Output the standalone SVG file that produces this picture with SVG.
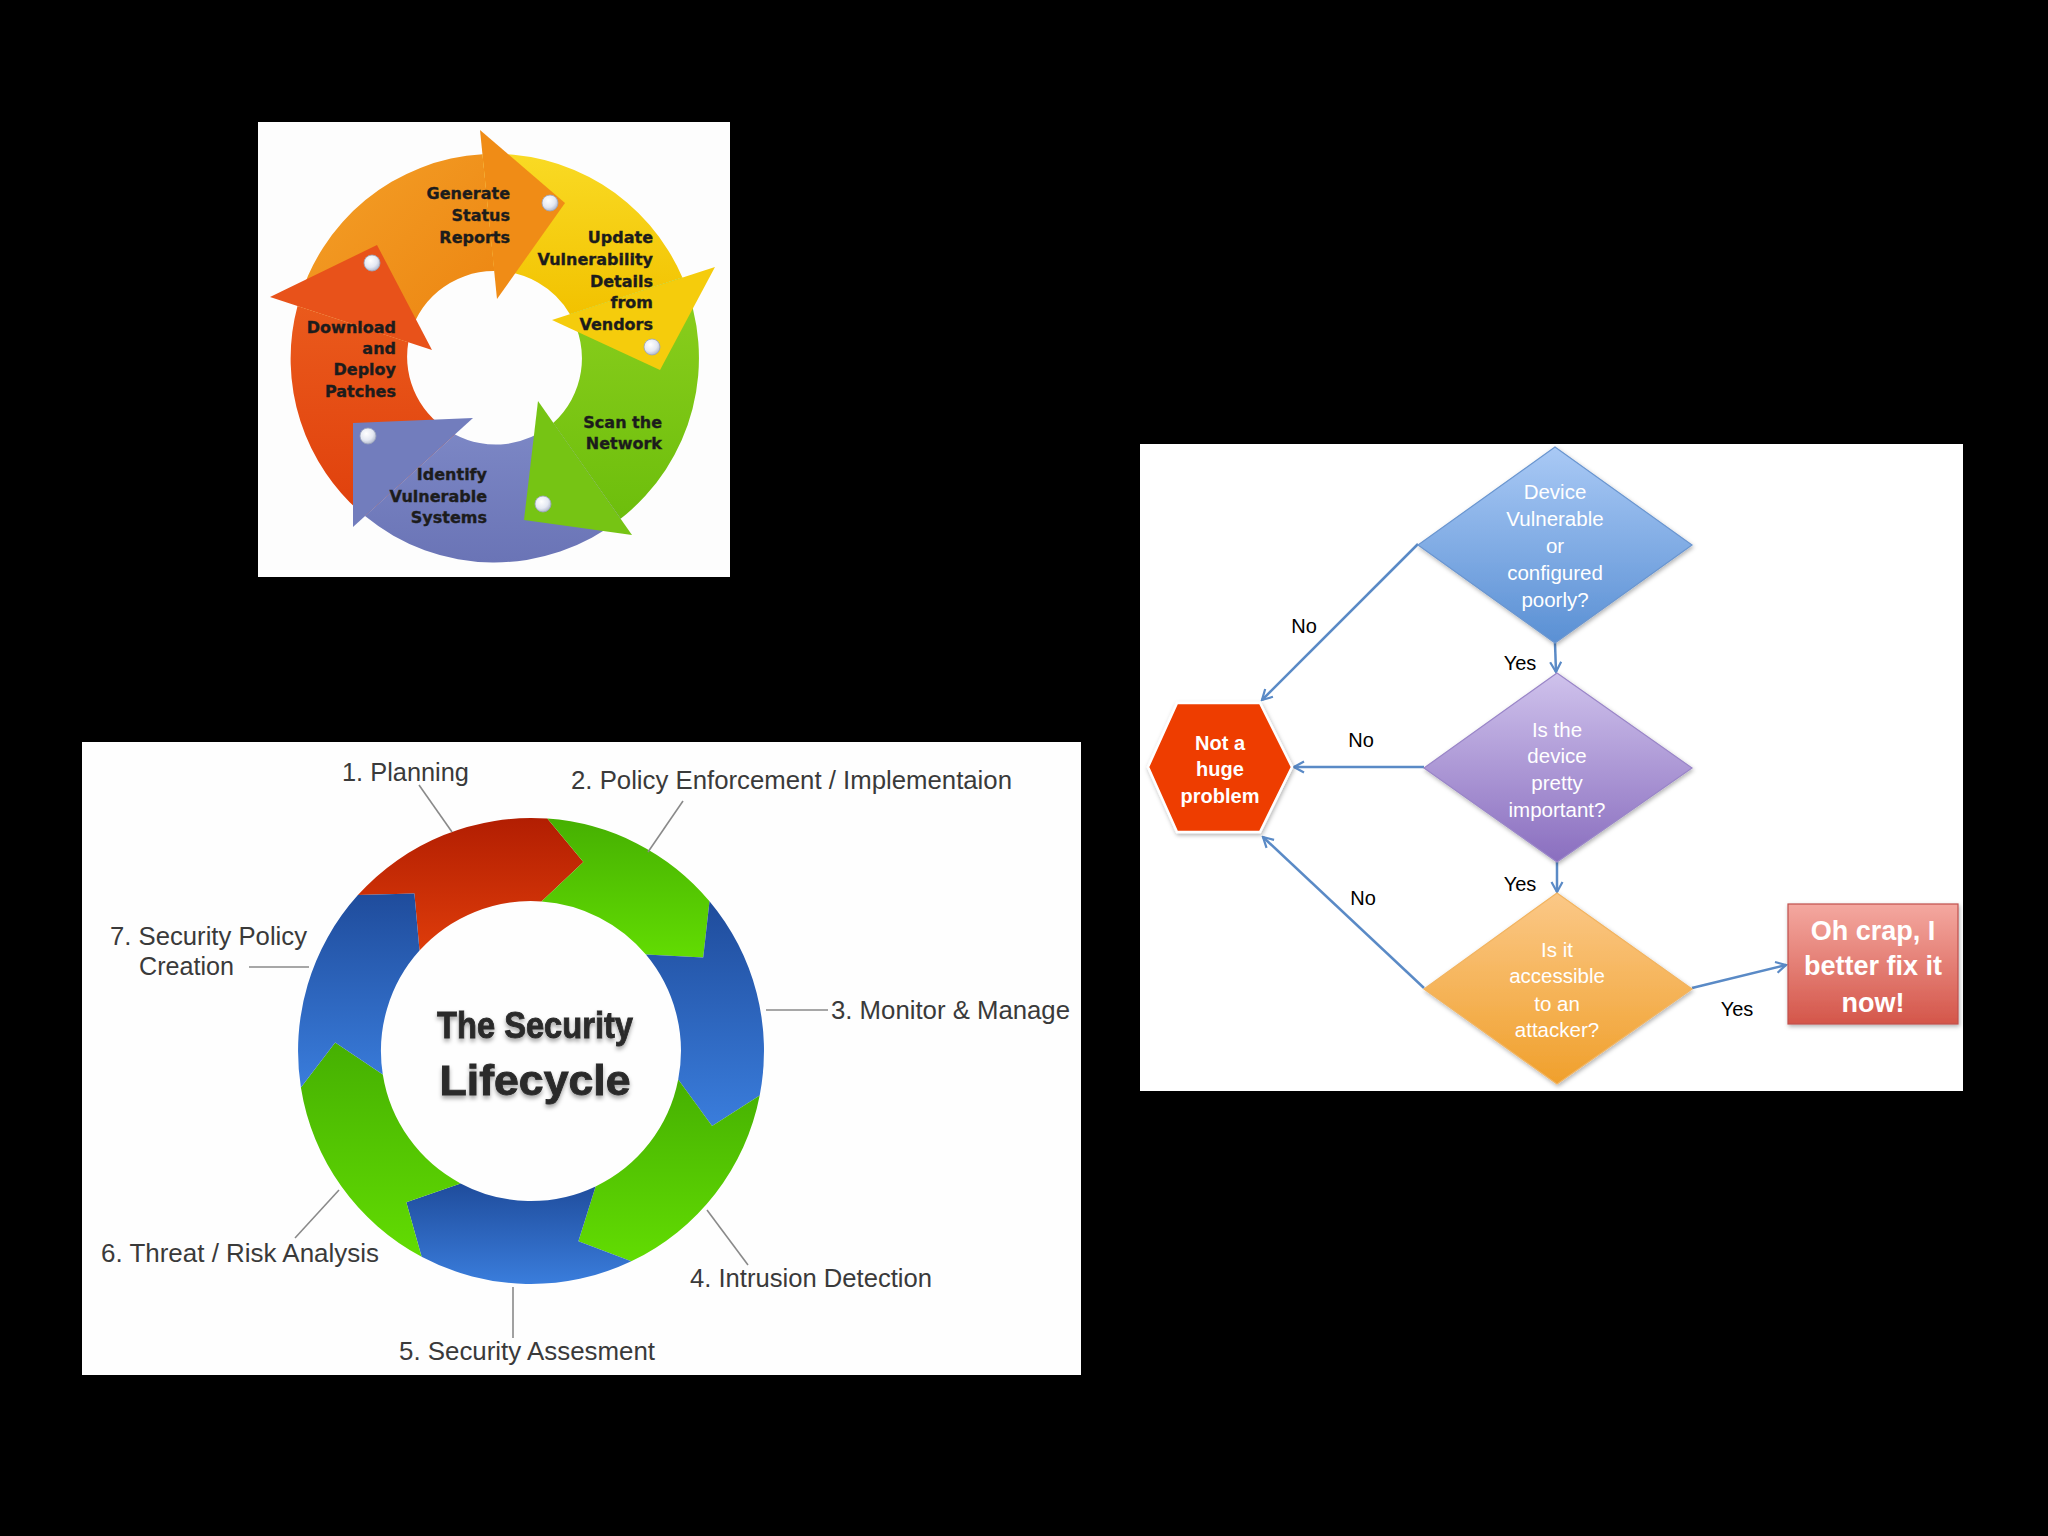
<svg xmlns="http://www.w3.org/2000/svg" width="2048" height="1536" viewBox="0 0 2048 1536">
<defs>
<style>
.p1t{font-family:"DejaVu Sans","Liberation Sans",sans-serif;font-weight:bold;font-size:16px;fill:#1c1c1c;stroke:#1c1c1c;stroke-width:0.35;text-anchor:end}
.p2t{font-family:"Liberation Sans",Arial,sans-serif;font-size:25px;fill:#3a3a3a}
.lead{stroke:#8a8a8a;stroke-width:1.6;fill:none}
.fq{font-family:"Liberation Sans",Arial,sans-serif;font-size:20.5px;fill:#ffffff;text-anchor:middle}
.fl{font-family:"Liberation Sans",Arial,sans-serif;font-size:20px;fill:#000000;text-anchor:middle}
.fb{font-family:"Liberation Sans",Arial,sans-serif;font-weight:bold;fill:#ffffff;text-anchor:middle}
.conn{stroke:#5a8ac6;stroke-width:2.5;fill:none;marker-end:url(#arr)}
.dot{fill:url(#gDot);stroke:#9aa3bb;stroke-width:0.8}
</style>
<marker id="arr" viewBox="0 0 14 14" markerWidth="14" markerHeight="14" refX="12" refY="7" orient="auto" markerUnits="userSpaceOnUse">
<path d="M2,1.5 L12,7 L2,12.5" fill="none" stroke="#5a8ac6" stroke-width="2.2"/>
</marker>
<radialGradient id="gDot" cx="0.4" cy="0.35" r="0.7">
<stop offset="0" stop-color="#ffffff"/><stop offset="0.6" stop-color="#e4e8f2"/><stop offset="1" stop-color="#aab2c8"/>
</radialGradient>
<linearGradient id="gOr" x1="0" y1="0" x2="1" y2="1"><stop offset="0" stop-color="#f4a028"/><stop offset="1" stop-color="#ec8410"/></linearGradient>
<linearGradient id="gYe" x1="0" y1="0" x2="0" y2="1"><stop offset="0" stop-color="#f9da24"/><stop offset="1" stop-color="#f2c200"/></linearGradient>
<linearGradient id="gGr1" x1="0" y1="0" x2="0" y2="1"><stop offset="0" stop-color="#8ccf1e"/><stop offset="1" stop-color="#6dbe0c"/></linearGradient>
<linearGradient id="gBl1" x1="0" y1="0" x2="0" y2="1"><stop offset="0" stop-color="#7d88c6"/><stop offset="1" stop-color="#6a74b6"/></linearGradient>
<linearGradient id="gRe1" x1="0" y1="0" x2="0" y2="1"><stop offset="0" stop-color="#ea5a1c"/><stop offset="1" stop-color="#e0400c"/></linearGradient>
<linearGradient id="gRed2" x1="0" y1="0" x2="0" y2="1"><stop offset="0" stop-color="#b21e02"/><stop offset="1" stop-color="#de3c0a"/></linearGradient>
<linearGradient id="gGrn2" x1="0" y1="0" x2="0" y2="1"><stop offset="0" stop-color="#46b002"/><stop offset="1" stop-color="#62dc02"/></linearGradient>
<linearGradient id="gBlu2" x1="0" y1="0" x2="0" y2="1"><stop offset="0" stop-color="#1f4c9c"/><stop offset="1" stop-color="#3a7ddc"/></linearGradient>
<linearGradient id="gD1" x1="0" y1="0" x2="0" y2="1"><stop offset="0" stop-color="#a9c9f5"/><stop offset="1" stop-color="#5a90d4"/></linearGradient>
<linearGradient id="gD2" x1="0" y1="0" x2="0" y2="1"><stop offset="0" stop-color="#cfc2ec"/><stop offset="1" stop-color="#8a6ebf"/></linearGradient>
<linearGradient id="gD3" x1="0" y1="0" x2="0" y2="1"><stop offset="0" stop-color="#fbc887"/><stop offset="1" stop-color="#f0a02c"/></linearGradient>
<linearGradient id="gRect" x1="0" y1="0" x2="0" y2="1"><stop offset="0" stop-color="#f4a8a0"/><stop offset="1" stop-color="#d4564a"/></linearGradient>
<filter id="shTitle" x="-10%" y="-20%" width="120%" height="160%"><feDropShadow dx="0" dy="3" stdDeviation="2" flood-color="#000" flood-opacity="0.35"/></filter>
<filter id="shBox" x="-10%" y="-10%" width="125%" height="125%"><feDropShadow dx="1" dy="2" stdDeviation="2" flood-color="#000" flood-opacity="0.3"/></filter>
</defs>

<rect x="0" y="0" width="2048" height="1536" fill="#000000"/>

<!-- ============ Panel 1: patch cycle ============ -->
<g id="panel1">
<rect x="258" y="122" width="472" height="455" fill="#fdfdfd"/>
<g id="p1-bodies">
<path d="M365,516.1 A204,204 0 0 1 297.5,306 L408.3,342.3 A87,87 0 0 0 455,434.4 Z" fill="url(#gRe1)"/>
<path d="M297.5,306 A204,204 0 0 1 482.5,154.2 L494.4,271.1 A87,87 0 0 0 408.3,342.3 Z" fill="url(#gOr)"/>
<path d="M482.5,154.2 A204,204 0 0 1 682.4,277.6 L569.9,314.2 A87,87 0 0 0 494.4,271.1 Z" fill="url(#gYe)"/>
<path d="M682.4,277.6 A204,204 0 0 1 620.6,518.8 L553.2,423 A87,87 0 0 0 569.9,314.2 Z" fill="url(#gGr1)"/>
<path d="M620.6,518.8 A204,204 0 0 1 365,516.1 L455,434.4 A87,87 0 0 0 553.2,423 Z" fill="url(#gBl1)"/>
</g>
<g id="p1-heads">
<polygon points="270,297 377,245 432,350" fill="#e8521a"/>
<polygon points="480,130 565,203 497,299" fill="#f08c16"/>
<polygon points="715,267 660,370 552,320" fill="#f5cc0c"/>
<polygon points="632,535 524,520 538,401" fill="#76c414"/>
<polygon points="353,527 353,423 473,418" fill="#727dbd"/>
</g>
<g id="p1-dots">
<circle class="dot" cx="550" cy="203" r="8"/>
<circle class="dot" cx="652" cy="347" r="8"/>
<circle class="dot" cx="543" cy="504" r="8"/>
<circle class="dot" cx="368" cy="436" r="8"/>
<circle class="dot" cx="372" cy="263" r="8"/>
</g>
<g id="p1-generate"><text class="p1t" x="510" y="199">Generate</text><text class="p1t" x="510" y="221">Status</text><text class="p1t" x="510" y="243">Reports</text></g>
<g id="p1-update"><text class="p1t" x="653" y="243">Update</text><text class="p1t" x="653" y="265">Vulnerability</text><text class="p1t" x="653" y="287">Details</text><text class="p1t" x="653" y="308">from</text><text class="p1t" x="653" y="330">Vendors</text></g>
<g id="p1-scan"><text class="p1t" x="662" y="428">Scan the</text><text class="p1t" x="662" y="449">Network</text></g>
<g id="p1-identify"><text class="p1t" x="487" y="480">Identify</text><text class="p1t" x="487" y="502">Vulnerable</text><text class="p1t" x="487" y="523">Systems</text></g>
<g id="p1-download"><text class="p1t" x="396" y="333">Download</text><text class="p1t" x="396" y="354">and</text><text class="p1t" x="396" y="375">Deploy</text><text class="p1t" x="396" y="397">Patches</text></g>
</g>

<!-- ============ Panel 2: security lifecycle ============ -->
<g id="panel2">
<rect x="82" y="742" width="999" height="633" fill="#fefefe"/>
<g id="p2-ring">
<path id="seg-planning" d="M357.9,895.1 A233,233 0 0 1 547.3,818.6 L583.4,862.1 L541.5,901.4 A150,150 0 0 0 419.5,950.6 L414.4,893.4 Z" fill="url(#gRed2)"/>
<path id="seg-policy" d="M547.3,818.6 A233,233 0 0 1 709.5,901.2 L703.2,957.5 L645.9,954.6 A150,150 0 0 0 541.5,901.4 L583.4,862.1 Z" fill="url(#gGrn2)"/>
<path id="seg-monitor" d="M709.5,901.2 A233,233 0 0 1 759.7,1095.5 L712.1,1126 L678.2,1079.6 A150,150 0 0 0 645.9,954.6 L703.2,957.5 Z" fill="url(#gBlu2)"/>
<path id="seg-intrusion" d="M759.7,1095.5 A233,233 0 0 1 631.3,1261.3 L578.4,1241.2 L595.6,1186.4 A150,150 0 0 0 678.2,1079.6 L712.1,1126 Z" fill="url(#gGrn2)"/>
<path id="seg-assess" d="M631.3,1261.3 A233,233 0 0 1 421.6,1256.7 L406.3,1202.2 L460.6,1183.4 A150,150 0 0 0 595.6,1186.4 L578.4,1241.2 Z" fill="url(#gBlu2)"/>
<path id="seg-threat" d="M421.6,1256.7 A233,233 0 0 1 300.9,1087.4 L335.2,1042.5 L382.8,1074.5 A150,150 0 0 0 460.6,1183.4 L406.3,1202.2 Z" fill="url(#gGrn2)"/>
<path id="seg-creation" d="M300.9,1087.4 A233,233 0 0 1 357.9,895.1 L414.4,893.4 L419.5,950.6 A150,150 0 0 0 382.8,1074.5 L335.2,1042.5 Z" fill="url(#gBlu2)"/>
</g>
<g id="p2-title" filter="url(#shTitle)" font-family="'Liberation Sans',Arial,sans-serif" font-weight="bold" fill="#2b2b2b" stroke="#2b2b2b" stroke-width="0.9" text-anchor="middle">
<text x="535" y="1038" font-size="37" textLength="196" lengthAdjust="spacingAndGlyphs">The Security</text>
<text x="535" y="1095" font-size="42" textLength="191" lengthAdjust="spacingAndGlyphs">Lifecycle</text>
</g>
<g id="p2-leaders">
<line class="lead" x1="419" y1="785" x2="452" y2="832"/>
<line class="lead" x1="683" y1="801" x2="648" y2="852"/>
<line class="lead" x1="766" y1="1010" x2="828" y2="1010"/>
<line class="lead" x1="707" y1="1210" x2="748" y2="1265"/>
<line class="lead" x1="513" y1="1287" x2="513" y2="1338"/>
<line class="lead" x1="295" y1="1238" x2="339" y2="1190"/>
<line class="lead" x1="249" y1="967" x2="309" y2="967"/>
</g>
<g id="p2-labels">
<text class="p2t" x="342" y="781" textLength="127" lengthAdjust="spacingAndGlyphs">1. Planning</text>
<text class="p2t" x="571" y="789" textLength="441" lengthAdjust="spacingAndGlyphs">2. Policy Enforcement / Implementaion</text>
<text class="p2t" x="831" y="1019" textLength="239" lengthAdjust="spacingAndGlyphs">3. Monitor &amp; Manage</text>
<text class="p2t" x="690" y="1287" textLength="242" lengthAdjust="spacingAndGlyphs">4. Intrusion Detection</text>
<text class="p2t" x="399" y="1360" textLength="256" lengthAdjust="spacingAndGlyphs">5. Security Assesment</text>
<text class="p2t" x="101" y="1262" textLength="278" lengthAdjust="spacingAndGlyphs">6. Threat / Risk Analysis</text>
<text class="p2t" x="110" y="945" textLength="197" lengthAdjust="spacingAndGlyphs">7. Security Policy</text>
<text class="p2t" x="139" y="975" textLength="95" lengthAdjust="spacingAndGlyphs">Creation</text>
</g>
</g>

<!-- ============ Panel 3: flowchart ============ -->
<g id="panel3">
<rect x="1140" y="444" width="823" height="647" fill="#ffffff"/>
<g id="connectors">
<line class="conn" x1="1418" y1="544" x2="1262" y2="700"/>
<line class="conn" x1="1555" y1="643" x2="1556" y2="672"/>
<line class="conn" x1="1424" y1="767" x2="1294" y2="767"/>
<line class="conn" x1="1557" y1="862" x2="1557" y2="892"/>
<line class="conn" x1="1424" y1="988" x2="1263" y2="837"/>
<line class="conn" x1="1692" y1="988" x2="1786" y2="965"/>
</g>
<g id="conn-labels">
<text class="fl" x="1304" y="633">No</text>
<text class="fl" x="1520" y="670">Yes</text>
<text class="fl" x="1361" y="747">No</text>
<text class="fl" x="1520" y="891">Yes</text>
<text class="fl" x="1363" y="905">No</text>
<text class="fl" x="1737" y="1016">Yes</text>
</g>
<g id="q-vulnerable">
<polygon points="1555,447 1692,545 1555,643 1418,545" fill="url(#gD1)" stroke="#6a96d0" stroke-width="1.2" filter="url(#shBox)"/>
<text class="fq" x="1555" y="499">Device</text><text class="fq" x="1555" y="526">Vulnerable</text><text class="fq" x="1555" y="553">or</text><text class="fq" x="1555" y="580">configured</text><text class="fq" x="1555" y="607">poorly?</text>
</g>
<g id="q-important">
<polygon points="1557,673 1692,768 1557,862 1424,768" fill="url(#gD2)" stroke="#9a86c8" stroke-width="1.2" filter="url(#shBox)"/>
<text class="fq" x="1557" y="737">Is the</text><text class="fq" x="1557" y="763">device</text><text class="fq" x="1557" y="790">pretty</text><text class="fq" x="1557" y="817">important?</text>
</g>
<g id="q-accessible">
<polygon points="1557,893 1692,989 1557,1084 1424,989" fill="url(#gD3)" stroke="#f2b460" stroke-width="1.2" filter="url(#shBox)"/>
<text class="fq" x="1557" y="957">Is it</text><text class="fq" x="1557" y="983">accessible</text><text class="fq" x="1557" y="1011">to an</text><text class="fq" x="1557" y="1037">attacker?</text>
</g>
<g id="not-a-problem">
<polygon points="1148,767 1177,703 1260,703 1292,767 1260,832 1177,832" fill="#ee3d00" stroke="#ffffff" stroke-width="2.5" filter="url(#shBox)"/>
<text class="fb" x="1220" y="750" font-size="20">Not a</text><text class="fb" x="1220" y="776" font-size="20">huge</text><text class="fb" x="1220" y="803" font-size="20">problem</text>
</g>
<g id="fix-it">
<rect x="1788" y="904" width="170" height="120" fill="url(#gRect)" stroke="#c0504d" stroke-width="1.2" filter="url(#shBox)"/>
<text class="fb" x="1873" y="940" font-size="27">Oh crap, I</text><text class="fb" x="1873" y="975" font-size="27">better fix it</text><text class="fb" x="1873" y="1012" font-size="27">now!</text>
</g>
</g>
</svg>
